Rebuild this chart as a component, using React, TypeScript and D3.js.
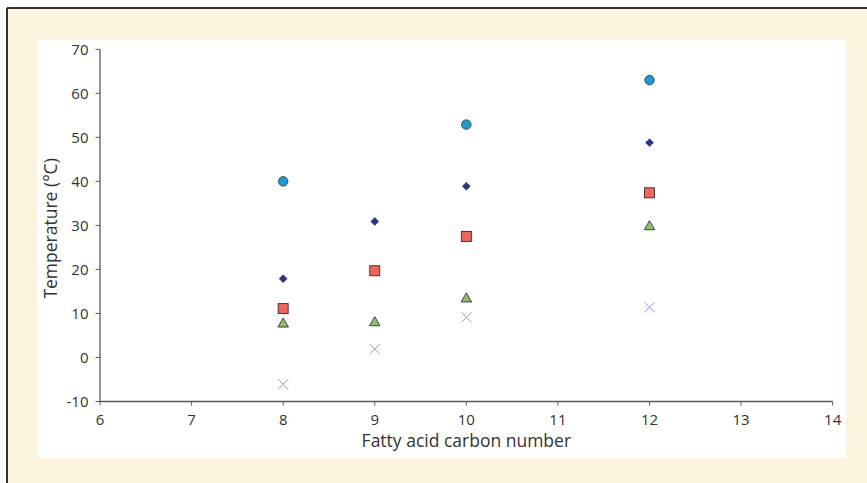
import React from "react";
import * as d3 from "d3";

const xTicks = [6, 7, 8, 9, 10, 11, 12, 13, 14];
const yTicks = [-10, 0, 10, 20, 30, 40, 50, 60, 70];

const circleData = [
  { x: 8, y: 40 },
  { x: 10, y: 52.9 },
  { x: 12, y: 63 },
];
const diamondData = [
  { x: 8, y: 17.9 },
  { x: 9, y: 30.9 },
  { x: 10, y: 38.9 },
  { x: 12, y: 48.8 },
];
const squareData = [
  { x: 8, y: 11.1 },
  { x: 9, y: 19.7 },
  { x: 10, y: 27.5 },
  { x: 12, y: 37.4 },
];
const triangleData = [
  { x: 8, y: 7.6 },
  { x: 9, y: 7.9 },
  { x: 10, y: 13.3 },
  { x: 12, y: 29.7 },
];
const crossData = [
  { x: 8, y: -6.1 },
  { x: 9, y: 1.9 },
  { x: 10, y: 9.1 },
  { x: 12, y: 11.4 },
];

const W = 867;
const H = 483;
const FONT = "'Open Sans', 'Noto Sans', sans-serif";

export default function App() {
  const x = d3.scaleLinear().domain([6, 14]).range([100, 832.7]);
  const y = d3.scaleLinear().domain([-10, 70]).range([401.5, 49.3]);

  const diamond = d3.symbol().type(d3.symbolDiamond2).size(40)();
  const triangle = d3.symbol().type(d3.symbolTriangle).size(48)();
  const cross = d3.symbol().type(d3.symbolX).size(70)();

  return (
    <svg
      width={W}
      height={H}
      style={{ position: "absolute", left: 0, top: 0 }}
      fontFamily={FONT}
    >
      <rect x={0} y={0} width={W} height={H} fill="#ffffff" />
      <rect x={7} y={8} width={W - 7} height={H - 8} fill="#fcf4df" />
      <line x1={7} y1={8} x2={W} y2={8} stroke="#333" strokeWidth={2} />
      <line x1={7} y1={8} x2={7} y2={H} stroke="#333" strokeWidth={2} />
      <rect x={37} y={40} width={809} height={418} fill="#ffffff" />

      {/* y axis */}
      <line x1={100} y1={y(70)} x2={100} y2={y(-10)} stroke="#5a5a5a" strokeWidth={1.3} />
      {yTicks.map((t) => (
        <g key={"y" + t}>
          <line x1={95.5} x2={100} y1={y(t)} y2={y(t)} stroke="#5a5a5a" strokeWidth={1} />
          <text
            x={88.5}
            y={y(t)}
            dy="0.36em"
            textAnchor="end"
            fontSize={15}
            fill="#333"
          >
            {t}
          </text>
        </g>
      ))}

      {/* x axis */}
      <line x1={100} y1={y(-10)} x2={x(14)} y2={y(-10)} stroke="#5a5a5a" strokeWidth={1.3} />
      {xTicks.map((t) => (
        <g key={"x" + t}>
          <line x1={x(t)} x2={x(t)} y1={y(-10)} y2={y(-10) + 4} stroke="#5a5a5a" strokeWidth={1} />
          <text
            x={x(t)}
            y={425}
            textAnchor="middle"
            fontSize={15}
            fill="#333"
          >
            {t}
          </text>
        </g>
      ))}

      <text
        x={(x(6) + x(14)) / 2}
        y={447}
        textAnchor="middle"
        fontSize={17.5}
        fill="#333"
      >
        Fatty acid carbon number
      </text>
      <text
        transform={`translate(57, ${(y(70) + y(-10)) / 2 + 3}) rotate(-90)`}
        textAnchor="middle"
        fontSize={17.5}
        fill="#333"
      >
        Temperature (°C)
      </text>

      {/* markers */}
      {circleData.map((d, i) => (
        <circle
          key={"c" + i}
          cx={x(d.x)}
          cy={y(d.y)}
          r={4.8}
          fill="#1d9ad1"
          stroke="#3a3a3a"
          strokeWidth={0.8}
        />
      ))}
      {diamondData.map((d, i) => (
        <path
          key={"d" + i}
          d={diamond}
          transform={`translate(${x(d.x)},${y(d.y)})`}
          fill="#2b3488"
          stroke="#333"
          strokeWidth={0.6}
        />
      ))}
      {squareData.map((d, i) => (
        <rect
          key={"s" + i}
          x={x(d.x) - 5}
          y={y(d.y) - 5}
          width={10}
          height={10}
          fill="#f1645b"
          stroke="#3a2a2a"
          strokeWidth={0.9}
        />
      ))}
      {triangleData.map((d, i) => (
        <path
          key={"t" + i}
          d={triangle}
          transform={`translate(${x(d.x)},${y(d.y)})`}
          fill="#8bc06a"
          stroke="#333"
          strokeWidth={0.9}
        />
      ))}
      {crossData.map((d, i) => (
        <path
          key={"x" + i}
          d={cross}
          transform={`translate(${x(d.x)},${y(d.y)})`}
          fill="none"
          stroke="#a593cc"
          strokeWidth={1}
        />
      ))}
    </svg>
  );
}
